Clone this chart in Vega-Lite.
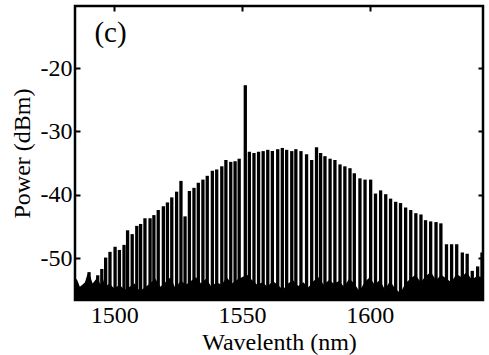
{
  "$schema": "https://vega.github.io/schema/vega-lite/v6.json",
  "width": 408,
  "height": 294,
  "autosize": "none",
  "padding": {"left": 75, "top": 6, "right": 6, "bottom": 55},
  "background": "white",
  "config": {
    "view": {"stroke": "black", "strokeWidth": 2.5},
    "font": "Liberation Serif",
    "axis": {"grid": false, "domain": false, "tickColor": "black", "tickWidth": 2, "tickSize": -5, "labelColor": "black", "titleColor": "black", "labelFont": "Liberation Serif", "titleFont": "Liberation Serif", "labelFontSize": 24, "titleFontSize": 24, "titleFontWeight": "normal"}
  },
  "datasets": {
    "lines": [
      {"wavelength": 1490.1, "power": -52.2},
      {"wavelength": 1493.5, "power": -52.7},
      {"wavelength": 1495.1, "power": -51.7},
      {"wavelength": 1496.6, "power": -49.9},
      {"wavelength": 1498.3, "power": -49.0},
      {"wavelength": 1500.3, "power": -48.2},
      {"wavelength": 1502.0, "power": -48.7},
      {"wavelength": 1503.8, "power": -47.9},
      {"wavelength": 1505.2, "power": -45.6},
      {"wavelength": 1507.0, "power": -46.2},
      {"wavelength": 1508.8, "power": -44.9},
      {"wavelength": 1510.3, "power": -44.6},
      {"wavelength": 1512.0, "power": -43.7},
      {"wavelength": 1514.0, "power": -43.7},
      {"wavelength": 1515.5, "power": -43.2},
      {"wavelength": 1517.2, "power": -42.4},
      {"wavelength": 1519.2, "power": -41.8},
      {"wavelength": 1520.8, "power": -41.2},
      {"wavelength": 1522.5, "power": -40.4},
      {"wavelength": 1524.4, "power": -39.5},
      {"wavelength": 1526.1, "power": -37.8},
      {"wavelength": 1527.7, "power": -43.4},
      {"wavelength": 1529.4, "power": -39.4},
      {"wavelength": 1531.2, "power": -38.9},
      {"wavelength": 1532.9, "power": -38.1},
      {"wavelength": 1534.7, "power": -37.6},
      {"wavelength": 1536.4, "power": -37.0},
      {"wavelength": 1538.4, "power": -36.2},
      {"wavelength": 1540.1, "power": -36.0},
      {"wavelength": 1542.1, "power": -35.5},
      {"wavelength": 1543.7, "power": -34.5},
      {"wavelength": 1545.6, "power": -34.8},
      {"wavelength": 1547.3, "power": -34.7},
      {"wavelength": 1548.9, "power": -34.3},
      {"wavelength": 1551.3, "power": -22.7},
      {"wavelength": 1552.9, "power": -33.2},
      {"wavelength": 1554.7, "power": -33.4},
      {"wavelength": 1556.5, "power": -33.2},
      {"wavelength": 1558.3, "power": -33.1},
      {"wavelength": 1560.1, "power": -32.9},
      {"wavelength": 1561.9, "power": -33.1},
      {"wavelength": 1564.0, "power": -32.8},
      {"wavelength": 1565.8, "power": -32.6},
      {"wavelength": 1567.5, "power": -32.9},
      {"wavelength": 1569.5, "power": -33.1},
      {"wavelength": 1571.1, "power": -32.8},
      {"wavelength": 1573.1, "power": -33.1},
      {"wavelength": 1575.3, "power": -33.6},
      {"wavelength": 1577.3, "power": -34.5},
      {"wavelength": 1579.2, "power": -32.5},
      {"wavelength": 1580.8, "power": -33.4},
      {"wavelength": 1582.5, "power": -33.9},
      {"wavelength": 1584.5, "power": -34.3},
      {"wavelength": 1586.4, "power": -34.5},
      {"wavelength": 1588.4, "power": -35.2},
      {"wavelength": 1590.3, "power": -35.5},
      {"wavelength": 1592.3, "power": -35.8},
      {"wavelength": 1594.0, "power": -36.6},
      {"wavelength": 1596.2, "power": -37.4},
      {"wavelength": 1598.2, "power": -37.6},
      {"wavelength": 1600.4, "power": -37.6},
      {"wavelength": 1602.3, "power": -39.8},
      {"wavelength": 1604.3, "power": -39.3},
      {"wavelength": 1606.3, "power": -39.9},
      {"wavelength": 1608.2, "power": -40.6},
      {"wavelength": 1610.2, "power": -41.1},
      {"wavelength": 1612.1, "power": -41.3},
      {"wavelength": 1614.1, "power": -42.0},
      {"wavelength": 1616.1, "power": -42.4},
      {"wavelength": 1618.1, "power": -42.9},
      {"wavelength": 1620.1, "power": -43.1},
      {"wavelength": 1621.9, "power": -44.0},
      {"wavelength": 1623.9, "power": -44.2},
      {"wavelength": 1626.0, "power": -44.3},
      {"wavelength": 1627.9, "power": -44.5},
      {"wavelength": 1630.1, "power": -47.8},
      {"wavelength": 1632.1, "power": -47.8},
      {"wavelength": 1634.1, "power": -47.8},
      {"wavelength": 1636.3, "power": -49.1},
      {"wavelength": 1638.2, "power": -49.3},
      {"wavelength": 1640.2, "power": -52.0},
      {"wavelength": 1642.3, "power": -51.3},
      {"wavelength": 1644.0, "power": -49.1}
    ],
    "floor": [
      {"wavelength": 1484.6, "power": -53.0},
      {"wavelength": 1485.5, "power": -53.5},
      {"wavelength": 1486.5, "power": -54.5},
      {"wavelength": 1487.5, "power": -54.2},
      {"wavelength": 1488.5, "power": -53.8},
      {"wavelength": 1489.5, "power": -52.5},
      {"wavelength": 1490.5, "power": -52.8},
      {"wavelength": 1491.5, "power": -54.0},
      {"wavelength": 1492.5, "power": -53.5},
      {"wavelength": 1493.5, "power": -53.0},
      {"wavelength": 1494.5, "power": -54.2},
      {"wavelength": 1495.5, "power": -53.2},
      {"wavelength": 1496.5, "power": -54.5},
      {"wavelength": 1498, "power": -54.0},
      {"wavelength": 1500, "power": -54.8},
      {"wavelength": 1502, "power": -54.2},
      {"wavelength": 1504, "power": -55.0},
      {"wavelength": 1506, "power": -54.5},
      {"wavelength": 1508, "power": -54.0},
      {"wavelength": 1510, "power": -55.2},
      {"wavelength": 1512, "power": -54.6},
      {"wavelength": 1514, "power": -54.0},
      {"wavelength": 1516, "power": -53.2},
      {"wavelength": 1518, "power": -54.5},
      {"wavelength": 1520, "power": -53.8},
      {"wavelength": 1522, "power": -53.0},
      {"wavelength": 1524, "power": -54.8},
      {"wavelength": 1526, "power": -53.5},
      {"wavelength": 1528, "power": -54.2},
      {"wavelength": 1530, "power": -53.6},
      {"wavelength": 1532, "power": -53.0},
      {"wavelength": 1534, "power": -54.0},
      {"wavelength": 1536, "power": -53.2},
      {"wavelength": 1538, "power": -54.5},
      {"wavelength": 1540, "power": -53.8},
      {"wavelength": 1542, "power": -54.2},
      {"wavelength": 1544, "power": -53.0},
      {"wavelength": 1546, "power": -54.0},
      {"wavelength": 1548, "power": -53.4},
      {"wavelength": 1550, "power": -53.0},
      {"wavelength": 1552, "power": -52.6},
      {"wavelength": 1554, "power": -53.5},
      {"wavelength": 1556, "power": -54.2},
      {"wavelength": 1558, "power": -53.8},
      {"wavelength": 1560, "power": -54.5},
      {"wavelength": 1562, "power": -53.6},
      {"wavelength": 1564, "power": -54.2},
      {"wavelength": 1566, "power": -55.0},
      {"wavelength": 1568, "power": -54.0},
      {"wavelength": 1570, "power": -53.5},
      {"wavelength": 1572, "power": -54.4},
      {"wavelength": 1574, "power": -53.8},
      {"wavelength": 1576, "power": -54.6},
      {"wavelength": 1578, "power": -53.6},
      {"wavelength": 1580, "power": -53.0},
      {"wavelength": 1582, "power": -54.2},
      {"wavelength": 1584, "power": -53.5},
      {"wavelength": 1586, "power": -54.0},
      {"wavelength": 1588, "power": -53.6},
      {"wavelength": 1590, "power": -54.5},
      {"wavelength": 1592, "power": -53.2},
      {"wavelength": 1594, "power": -54.0},
      {"wavelength": 1596, "power": -55.2},
      {"wavelength": 1598, "power": -53.8},
      {"wavelength": 1600, "power": -53.0},
      {"wavelength": 1602, "power": -54.2},
      {"wavelength": 1604, "power": -53.4},
      {"wavelength": 1606, "power": -55.0},
      {"wavelength": 1608, "power": -53.6},
      {"wavelength": 1610, "power": -54.8},
      {"wavelength": 1612, "power": -55.5},
      {"wavelength": 1614, "power": -54.0},
      {"wavelength": 1616, "power": -53.2},
      {"wavelength": 1618, "power": -52.6},
      {"wavelength": 1620, "power": -53.8},
      {"wavelength": 1622, "power": -52.8},
      {"wavelength": 1624, "power": -52.2},
      {"wavelength": 1626, "power": -53.5},
      {"wavelength": 1628, "power": -52.6},
      {"wavelength": 1630, "power": -53.2},
      {"wavelength": 1632, "power": -53.8},
      {"wavelength": 1634, "power": -52.5},
      {"wavelength": 1636, "power": -53.0},
      {"wavelength": 1638, "power": -52.2},
      {"wavelength": 1640, "power": -53.4},
      {"wavelength": 1642, "power": -52.8},
      {"wavelength": 1644.4, "power": -53.0}
    ]
  },
  "resolve": {"axis": {"x": "independent", "y": "independent"}},
  "layer": [
    {
      "data": {"name": "floor"},
      "mark": {"type": "area", "color": "black", "clip": true},
      "encoding": {
        "x": {"field": "wavelength", "type": "quantitative", "scale": {"domain": [1484.6, 1644.4], "nice": false, "zero": false},
              "axis": {"orient": "bottom", "values": [1500, 1550, 1600], "title": "Wavelenth (nm)", "labelPadding": 8, "titlePadding": 3, "labelExpr": "toString(datum.value)"}},
        "y": {"field": "power", "type": "quantitative", "scale": {"domain": [-56.6, -10.2], "nice": false, "zero": false},
              "axis": {"orient": "left", "values": [-50, -40, -30, -20], "title": "Power (dBm)", "labelPadding": 8, "titlePadding": 6, "labelExpr": "toString(datum.value)"}},
        "y2": {"datum": -56.6}
      }
    },
    {
      "data": {"name": "lines"},
      "mark": {"type": "rule", "color": "black", "strokeWidth": 3.3, "clip": true},
      "encoding": {
        "x": {"field": "wavelength", "type": "quantitative", "axis": {"orient": "top", "values": [1500, 1550, 1600], "labels": false, "title": null}},
        "y": {"field": "power", "type": "quantitative", "axis": {"orient": "right", "values": [-50, -40, -30, -20], "labels": false, "title": null}},
        "y2": {"datum": -56.6}
      }
    },
    {
      "data": {"values": [{"label": "(c)"}]},
      "mark": {"type": "text", "fontSize": 29, "font": "Liberation Serif", "align": "left", "baseline": "middle", "color": "black"},
      "encoding": {
        "text": {"field": "label"},
        "x": {"datum": 1492.2, "axis": null},
        "y": {"datum": -14.5, "axis": null}
      }
    }
  ]
}
